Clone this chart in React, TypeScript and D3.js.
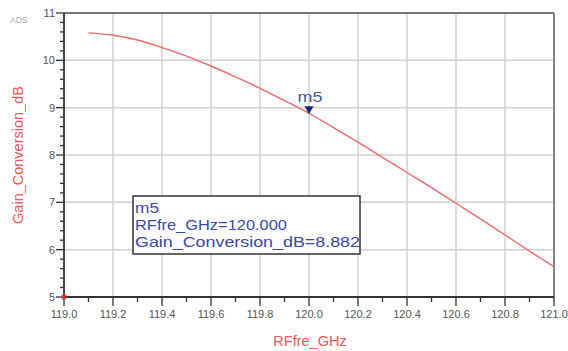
import React from "react";
import * as d3 from "d3";

const freqs = [119.1, 119.2, 119.3, 119.4, 119.5, 119.6, 119.7, 119.8, 119.9, 120.0, 120.1, 120.2, 120.3, 120.4, 120.5, 120.6, 120.7, 120.8, 120.9, 121.0];
const gains = [10.58, 10.53, 10.43, 10.27, 10.09, 9.88, 9.65, 9.41, 9.15, 8.882, 8.58, 8.27, 7.95, 7.63, 7.31, 6.98, 6.65, 6.31, 5.97, 5.64];
const xTicks = [119.0, 119.2, 119.4, 119.6, 119.8, 120.0, 120.2, 120.4, 120.6, 120.8, 121.0];
const yTicks = [5, 6, 7, 8, 9, 10, 11];
const markerName = "m5";
const markerFreq = 120.0;
const markerGain = 8.882;
const xLabel = "RFfre_GHz";
const yLabel = "Gain_Conversion_dB";

export default function App() {
  const W = 568, H = 351;
  const L = 64, R = 554, T = 13, B = 297;
  const x = d3.scaleLinear().domain([119, 121]).range([L, R]);
  const y = d3.scaleLinear().domain([5, 11]).range([B, T]);
  const line = d3.line<number>().x((_, i) => x(freqs[i])).y((d) => y(d)).curve(d3.curveCatmullRom);
  const xMinor = d3.range(0, 21).map((i) => 119 + i * 0.1);
  const yMinor = d3.range(0, 31).map((i) => 5 + i * 0.2);
  const font = "Arial, 'Liberation Sans', sans-serif";
  const mx = x(markerFreq), my = y(markerGain);
  return (
    <svg width={W} height={H} style={{ position: "absolute", left: 0, top: 0, background: "#fff" }} fontFamily={font}>
      <text x={10} y={23} fontSize={8.5} fill="#aaa">ADS</text>
      {/* grid */}
      {xTicks.slice(1, -1).map((t) => (
        <line key={"gx" + t} x1={x(t)} x2={x(t)} y1={T} y2={B} stroke="#d0d0d0" strokeWidth={1.5} />
      ))}
      {yTicks.slice(1, -1).map((t) => (
        <line key={"gy" + t} x1={L} x2={R} y1={y(t)} y2={y(t)} stroke="#d0d0d0" strokeWidth={1.5} />
      ))}
      {/* frame */}
      <line x1={L} x2={R} y1={T} y2={T} stroke="#777" strokeWidth={1.8} />
      <line x1={R} x2={R} y1={T} y2={B} stroke="#777" strokeWidth={1.8} />
      <line x1={L} x2={L} y1={T} y2={B} stroke="#333" strokeWidth={1.8} />
      <line x1={L} x2={R} y1={B} y2={B} stroke="#333" strokeWidth={1.8} />
      {/* y ticks */}
      {yMinor.map((t, i) => (
        <line key={"ym" + i} x1={L - (i % 5 === 0 ? 8 : 4)} x2={L} y1={y(t)} y2={y(t)} stroke="#333" strokeWidth={1.3} />
      ))}
      {yTicks.map((t) => (
        <text key={"yl" + t} x={L - 9} y={y(t) + 4} fontSize={11} fill="#555" textAnchor="end">{t}</text>
      ))}
      {/* x ticks */}
      {xMinor.map((t, i) => (
        <line key={"xm" + i} x1={x(t)} x2={x(t)} y1={B} y2={B + (i % 2 === 0 ? 9 : 5)} stroke="#333" strokeWidth={1.3} />
      ))}
      {xTicks.map((t) => (
        <text key={"xl" + t} x={x(t)} y={B + 21} fontSize={11} fill="#555" textAnchor="middle">{t.toFixed(1)}</text>
      ))}
      {/* origin star */}
      <g stroke="#e03030" strokeWidth={1}>
        <line x1={L - 3} x2={L + 3} y1={B} y2={B} />
        <line x1={L} x2={L} y1={B - 3} y2={B + 3} />
        <line x1={L - 2.5} x2={L + 2.5} y1={B - 2.5} y2={B + 2.5} />
        <line x1={L - 2.5} x2={L + 2.5} y1={B + 2.5} y2={B - 2.5} />
      </g>
      {/* curve */}
      <path d={line(gains) || ""} fill="none" stroke="#ee6a6a" strokeWidth={1.4} />
      {/* marker */}
      <path d={`M${mx - 4.5},${my - 7}L${mx + 4.5},${my - 7}L${mx},${my + 1}Z`} fill="#1a237e" />
      <text x={mx + 1} y={my - 11} fontSize={15} fill="#4a5a9a" textAnchor="middle" textLength={25} lengthAdjust="spacingAndGlyphs">{markerName}</text>
      {/* legend box */}
      <rect x={133} y={196} width={227} height={58} fill="#fff" stroke="#333" strokeWidth={1.5} />
      <g fontSize={15} fill="#3a48a8">
        <text x={135} y={213} textLength={24} lengthAdjust="spacingAndGlyphs">{markerName}</text>
        <text x={135} y={230} textLength={152} lengthAdjust="spacingAndGlyphs">{`RFfre_GHz=${markerFreq.toFixed(3)}`}</text>
        <text x={135} y={247} textLength={225} lengthAdjust="spacingAndGlyphs">{`Gain_Conversion_dB=${markerGain.toFixed(3)}`}</text>
      </g>
      {/* axis labels */}
      <text x={310} y={346} fontSize={14.5} fill="#ee5555" textAnchor="middle">{xLabel}</text>
      <text transform={`translate(23,${155}) rotate(-90)`} fontSize={14.5} fill="#ee5555" textAnchor="middle">{yLabel}</text>
    </svg>
  );
}
